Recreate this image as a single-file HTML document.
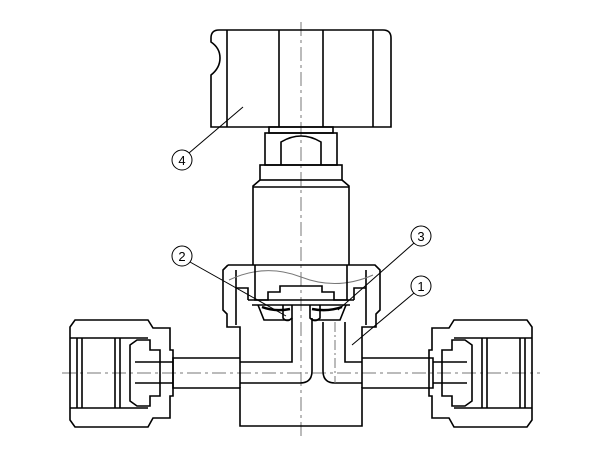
<!DOCTYPE html>
<html><head><style>html,body{margin:0;padding:0;background:#fff}svg{display:block}</style></head>
<body>
<svg width="600" height="460" viewBox="0 0 600 460" xmlns="http://www.w3.org/2000/svg" fill="none" stroke="#000" stroke-width="1.6" font-family="Liberation Sans, sans-serif">
<!-- center lines -->
<g stroke="#777" stroke-width="1" stroke-dasharray="14,4,3,4">
<line x1="301" y1="22" x2="301" y2="440"/>
<line x1="62" y1="373" x2="540" y2="373"/>
</g>
<!-- knob -->
<path d="M219,30 H383 Q391,30 391,38 V127 H211 V75 Q220,68 220,58 Q220,48 211,42 V38 Q211,30 219,30 Z"/>
<line x1="227" y1="30" x2="227" y2="127"/>
<line x1="279" y1="30" x2="279" y2="127"/>
<line x1="323" y1="30" x2="323" y2="127"/>
<line x1="373" y1="30" x2="373" y2="127"/>
<!-- stem, nut, flange -->
<rect x="269" y="127" width="64" height="6"/>
<rect x="265" y="133" width="72" height="32"/>
<path d="M281,165 V142 Q301,130 321,142 V165"/>
<rect x="260" y="165" width="82" height="15"/>
<path d="M260,180 L253,186 V265 M342,180 L349,186 V265"/>
<line x1="253" y1="187" x2="349" y2="187"/>
<!-- bonnet nut -->
<path d="M228,265 H375 L380,270 V310 L376,314 V327 H362 V358"/>
<path d="M228,265 L223,270 V310 L227,314 V327 H240 V358"/>
<path d="M236,270 V325 M366,270 V325"/>
<path d="M229,280 Q265,263 301,277 Q337,291 373,275" stroke="#777" stroke-width="1"/>
<path d="M255,265 V300 H268 V292 H280 V286 H322 V292 H334 V300 H347 V265"/>
<path d="M236,288 H248 V300 M366,288 H354 V300"/>
<path d="M248,300 H354 M252,305 H350"/>
<path d="M258,305 L264,320 H290 M312,320 H340 L346,305"/>
<path d="M283,305 V318 Q287,323 292,318 V305 M310,305 V318 Q315,323 320,318 V305"/>
<path d="M262,307 Q275,312 290,309 M312,309 Q328,312 342,307" stroke-width="2.5"/>
<!-- body -->
<path d="M240,358 H173 V388 H240 V426 H362 V388 H433 V358 H362"/>
<line x1="240" y1="358" x2="240" y2="388"/>
<line x1="362" y1="358" x2="362" y2="388"/>
<path d="M240,362 H292 V318"/>
<path d="M240,383 H300 Q312,383 312,371 V318"/>
<path d="M362,362 H345 V322"/>
<path d="M362,383 H335 Q323,383 323,371 V322"/>
<line x1="335" y1="322" x2="335" y2="383" stroke="#777" stroke-width="1" stroke-dasharray="10,3,2,3"/>
<!-- left fitting -->
<path d="M75,320 H148 L153,328 H170 V350 H173 V396 H170 V418 H153 L148,427 H75 L70,420 V327 Z"/>
<path d="M70,338 H148 M70,408 H148"/>
<path d="M77,338 V408 M82,338 V408 M115,338 V408 M120,338 V408"/>
<path d="M130,345 L137,340 H150 V350 H160 V396 H150 V406 H137 L130,401 Z"/>
<path d="M135,362 H173 M135,383 H173"/>
<!-- right fitting -->
<path d="M527,320 H454 L449,328 H432 V350 H429 V396 H432 V418 H449 L454,427 H527 L532,420 V327 Z"/>
<path d="M532,338 H454 M532,408 H454"/>
<path d="M525,338 V408 M520,338 V408 M487,338 V408 M482,338 V408"/>
<path d="M472,345 L465,340 H452 V350 H442 V396 H452 V406 H465 L472,401 Z"/>
<path d="M467,362 H433 M467,383 H433"/>
<!-- callouts -->
<g stroke-width="1" fill="none">
<circle cx="182" cy="160" r="10"/><line x1="189" y1="153" x2="243" y2="107"/>
<circle cx="182" cy="256" r="10"/><line x1="190" y1="262" x2="286" y2="316"/>
<circle cx="421" cy="236" r="10"/><line x1="414" y1="243" x2="338" y2="310"/>
<circle cx="421" cy="286" r="10"/><line x1="414" y1="293" x2="352" y2="345"/>
</g>
<g fill="#000" stroke="none" font-size="13" text-anchor="middle">
<text x="182" y="165">4</text><text x="182" y="261">2</text>
<text x="421" y="241">3</text><text x="421" y="291">1</text>
</g>
</svg>
</body></html>
